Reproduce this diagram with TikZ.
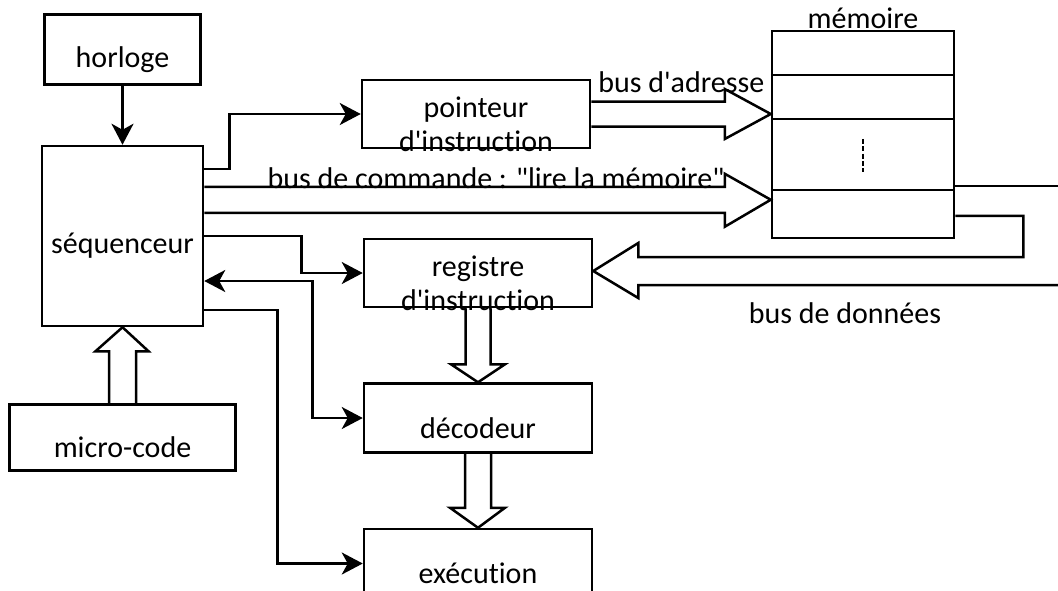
\documentclass[tikz,border=0pt]{standalone}
\usepackage{fontspec}
\setmainfont{Carlito}[Ligatures=CommonOff]
\usetikzlibrary{positioning,calc,arrows.meta}

\begin{document}
\begin{tikzpicture}[x=0.5pt, y=-0.5pt, line width=1.25pt,
        box/.style={draw, rectangle, inner sep=0pt},
        txt/.style={font=\fontsize{15}{17}\selectfont, align=center, inner sep=0pt},
        >={Stealth[length=10.5pt, width=11pt, inset=3pt]}]
                \clip (0,0) rectangle (1058,590);
                \coordinate (edge) at (1058,0);
                \node[box, minimum width=80.5pt, minimum height=90pt] (seq) at (122.5,236) {};
                \node[box, minimum width=78pt, minimum height=35pt, above =29.5pt of seq] (horloge) {};
                \node[box, minimum width=113pt, minimum height=33pt, below =38pt of seq] (micro) {};
                \node[box, minimum width=114pt, minimum height=34pt] (ptr) at (476,114) {};
                \node[box, minimum width=114pt, minimum height=34pt] (reg) at (478,273) {};
                \node[box, minimum width=114pt, minimum height=34.5pt, below =37pt of reg] (dec) {};
                \node[box, minimum width=114pt, minimum height=34.5pt, below =37pt of dec] (exec) {};
                \node[box, minimum width=91pt, minimum height=103.5pt] (mem) at (863,134.5) {};
                \foreach \n / \t in {horloge/horloge, seq/séquenceur, micro/micro-code,
                        ptr/{pointeur\\d\textquotesingle instruction}, reg/{registre\\d\textquotesingle instruction},
                        dec/décodeur, exec/exécution}
                    \node[txt] (\n-t) at ([yshift=-5pt]\n.center) {\t};
                % memoire
                \node[txt, anchor=base] (mem-t) at ([yshift=0.5pt]mem.north) {mémoire};
                \foreach \d in {45, 89, 160}
                    \draw ($(mem.north west)+(0,\d)$) -- ($(mem.north east)+(0,\d)$);
                \draw[dash pattern=on 2.5pt off 1.2pt, line width=1.1pt] ($(mem.north)+(0,109)$) -- ($(mem.north)+(0,142)$);
                % commandes
                \draw[->] (horloge) -- (horloge.south |- seq.north);
                \draw[->] ($(seq.east)+(0,-67)$) -- ++(25,0) |- (ptr);
                \draw[->] (seq.east) -- ++(97,0) |- (reg);
                \draw[<->] ($(seq.east)+(0,45)$) -- ++(108,0) |- (dec);
                \draw[->] ($(seq.east)+(0,74)$) -- ++(73,0) |- (exec);
                % bus d'adresse
                \coordinate (adr) at (ptr.east -| mem.west);
                \draw ($(ptr.east)+(0,-12.5)$) -- ($(adr)+(-46,-12.5)$) -- ($(adr)+(-46,-25)$) -- (adr)
                    -- ($(adr)+(-46,25)$) -- ($(adr)+(-46,12.5)$) -- ($(ptr.east)+(0,12.5)$);
                \node[txt, anchor=base] (adr-t) at ($(ptr.east)+(90,-22)$) {bus d\textquotesingle adresse};
                % bus de commande
                \coordinate (cmd) at ($(mem.north west)+(0,170)$);
                \draw ($(seq.east |- cmd)+(0,-13)$) -- ($(cmd)+(-46,-13)$) -- ($(cmd)+(-46,-26)$) -- (cmd)
                    -- ($(cmd)+(-46,27)$) -- ($(cmd)+(-46,13)$) -- ($(seq.east |- cmd)+(0,13)$);
                \node[txt, anchor=base] (cmd-t) at (496,188) {bus de commande : \textquotedbl lire la mémoire\textquotedbl};
                % bus de donnees
                \draw ($(mem.north east)+(0,156)$) coordinate (m1) -- (m1 -| edge);
                \coordinate (dat) at ($(reg.east)+(0,-2)$);
                \draw ($(mem.north east)+(0,186)$) -| ($(dat)+(430,-14)$) -- ($(dat)+(45,-14)$) -- ($(dat)+(45,-28)$) -- (dat)
                    -- ($(dat)+(45,27)$) -- ($(dat)+(45,14)$) -- ($(dat -| edge)+(0,14)$);
                \node[txt] (dat-t) at (845,313) {bus de données};
                % registre -> decodeur -> execution
                \draw ($(reg.south)+(-12.5,0)$) |- ($(dec.north)+(-27,-18)$) -- (dec.north)
                    -- ($(dec.north)+(27,-18)$) -| ($(reg.south)+(12.5,0)$);
                \draw ($(dec.south)+(-13,0)$) |- ($(exec.north)+(-28,-20)$) -- (exec.north)
                    -- ($(exec.north)+(27,-20)$) -| ($(dec.south)+(13,0)$);
                % micro-code -> sequenceur
                \draw ($(seq.south |- micro.north)+(-13.5,0)$) |- ($(seq.south)+(-27,24)$) -- (seq.south)
                    -- ($(seq.south)+(26,24)$) -| ($(seq.south |- micro.north)+(13.5,0)$);
            \end{tikzpicture}
\end{document}
